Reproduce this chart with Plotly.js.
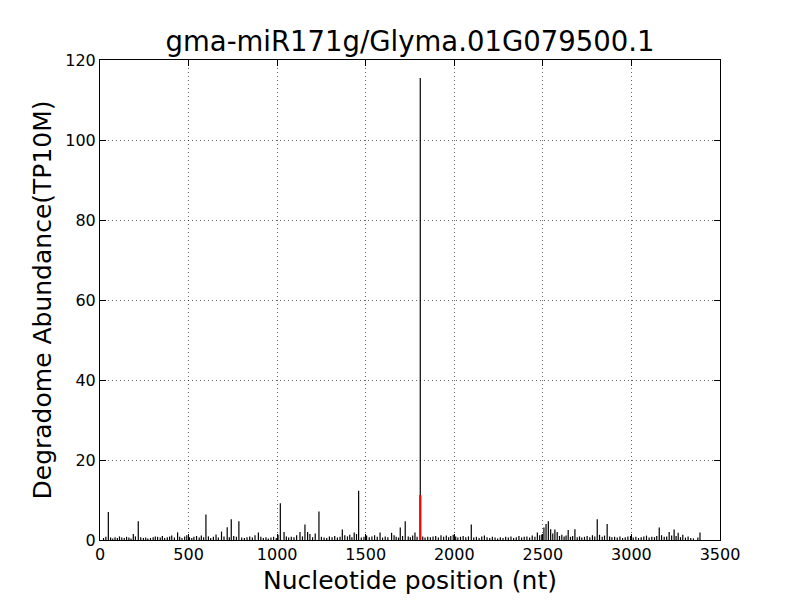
<!DOCTYPE html>
<html>
<head>
<meta charset="utf-8">
<script src="https://cdn.plot.ly/plotly-3.0.1.min.js"></script>
<style>html,body{margin:0;padding:0;background:#fff;}#chart{width:800px;height:600px;}</style>
</head>
<body>
<div id="chart"></div>
<script>
// Notable peaks (nt position, abundance TP10M)
var peakPos = [47, 188, 216, 438, 598, 686, 718, 741, 784, 894,
               1018, 1039, 1129, 1157, 1172, 1236, 1368, 1435, 1460, 1581,
               1646, 1695, 1723, 1778, 1808, 1994, 2096, 2469, 2506, 2518,
               2531, 2544, 2568, 2581, 2643, 2681, 2807, 2863, 3157, 3213,
               3241, 3264, 3387];
var peakVal = [7.0, 1.5, 4.7, 1.9, 6.4, 2.1, 3.2, 5.2, 4.7, 1.9,
               9.2, 2.0, 2.0, 3.9, 2.0, 7.1, 2.6, 1.9, 12.3, 1.9,
               1.8, 3.1, 4.7, 1.9, 115.5, 1.3, 3.9, 1.9, 3.1, 4.0,
               4.7, 2.7, 2.6, 2.0, 2.5, 2.7, 5.2, 4.0, 3.1, 2.0,
               2.6, 1.8, 1.9];
// Low background signal
var noisePos = [20, 33, 60, 72, 85, 98, 110, 123, 137, 150,
                163, 175, 200, 230, 245, 258, 270, 285, 300, 312,
                325, 340, 352, 365, 380, 393, 405, 420, 450, 463,
                478, 490, 505, 518, 530, 545, 560, 572, 585, 612,
                625, 640, 655, 668, 700, 730, 755, 770, 800, 815,
                830, 845, 860, 875, 908, 922, 937, 950, 965, 980,
                995, 1005, 1052, 1065, 1080, 1095, 1110, 1143, 1185, 1200,
                1215, 1250, 1265, 1280, 1295, 1310, 1325, 1340, 1355, 1382,
                1397, 1410, 1422, 1448, 1475, 1490, 1505, 1520, 1535, 1550,
                1565, 1595, 1610, 1625, 1660, 1672, 1685, 1708, 1740, 1752,
                1765, 1790, 1822, 1835, 1850, 1865, 1880, 1895, 1910, 1925,
                1940, 1955, 1968, 1980, 2008, 2020, 2035, 2050, 2065, 2080,
                2110, 2125, 2140, 2155, 2170, 2185, 2200, 2215, 2230, 2245,
                2260, 2275, 2290, 2305, 2320, 2335, 2350, 2365, 2380, 2395,
                2410, 2425, 2440, 2455, 2482, 2494, 2556, 2594, 2607, 2620,
                2631, 2656, 2668, 2694, 2707, 2720, 2735, 2750, 2765, 2780,
                2793, 2820, 2835, 2848, 2877, 2890, 2905, 2920, 2935, 2950,
                2965, 2980, 2995, 3010, 3025, 3040, 3055, 3070, 3085, 3100,
                3115, 3130, 3143, 3170, 3185, 3199, 3227, 3252, 3277, 3290,
                3305, 3320, 3335, 3350, 3375];
var noiseVal = [0.5, 0.8, 0.6, 0.4, 0.7, 0.5, 0.9, 0.6, 0.5, 0.8,
                0.6, 0.4, 0.9, 0.7, 0.5, 0.6, 0.4, 0.5, 0.7, 0.9,
                0.8, 0.6, 1.0, 0.5, 0.7, 0.9, 1.1, 0.6, 0.8, 0.5,
                0.9, 1.2, 0.7, 0.5, 0.8, 1.0, 0.6, 1.1, 0.7, 0.9,
                0.5, 0.8, 1.4, 0.6, 0.9, 0.7, 1.0, 0.8, 0.6, 0.5,
                0.7, 0.9, 0.6, 1.2, 0.8, 0.5, 0.7, 0.4, 0.6, 0.8,
                0.5, 1.3, 0.9, 0.6, 0.8, 0.7, 1.2, 0.9, 1.5, 0.7,
                1.6, 0.8, 0.6, 0.5, 0.9, 0.7, 1.0, 0.6, 0.8, 1.2,
                0.9, 1.3, 0.7, 1.5, 0.6, 0.8, 1.1, 0.7, 0.9, 1.2,
                0.8, 0.6, 0.9, 0.7, 1.2, 0.8, 0.6, 1.0, 0.9, 0.7,
                1.1, 0.8, 0.9, 0.6, 0.8, 0.7, 0.9, 1.0, 0.6, 1.2,
                0.8, 1.1, 0.7, 1.0, 0.9, 0.6, 0.8, 1.0, 0.7, 0.9,
                0.6, 0.8, 0.5, 0.9, 1.1, 0.7, 0.5, 0.8, 0.6, 0.4,
                0.7, 0.5, 0.8, 0.6, 0.9, 0.5, 0.7, 1.0, 0.6, 0.8,
                0.9, 0.6, 1.1, 0.8, 1.2, 1.4, 1.6, 1.0, 1.3, 0.9,
                1.1, 0.8, 1.0, 0.7, 0.9, 0.6, 0.8, 1.0, 0.7, 1.2,
                0.9, 1.3, 0.8, 1.1, 0.9, 0.7, 0.8, 0.6, 0.9, 0.5,
                0.7, 0.9, 1.0, 0.6, 0.8, 0.5, 0.7, 0.9, 1.1, 0.6,
                0.8, 0.7, 1.0, 1.2, 0.8, 0.9, 1.1, 1.0, 0.7, 1.3,
                0.6, 0.9, 0.5, 0.4, 0.6];
// Cleavage site (highlighted in red)
var sitePos = [1808];
var siteVal = [11.2];

var titleText = 'gma-miR171g/Glyma.01G079500.1';
var xTitle = 'Nucleotide position (nt)';
var yTitle = 'Degradome Abundance(TP10M)';

function stems(pos, val) {
  var xs = [], ys = [];
  for (var i = 0; i < pos.length; i++) {
    xs.push(pos[i], pos[i], null);
    ys.push(0, val[i], null);
  }
  return {x: xs, y: ys};
}

var allPos = noisePos.concat(peakPos);
var allVal = noiseVal.concat(peakVal);
var s1 = stems(allPos, allVal);
var s2 = stems(sitePos, siteVal);

var traces = [
  {x: s1.x, y: s1.y, type: 'scatter', mode: 'lines', line: {color: '#000000', width: 1.2}, hoverinfo: 'skip', showlegend: false},
  {x: s2.x, y: s2.y, type: 'scatter', mode: 'lines', line: {color: '#ff0000', width: 2.2}, hoverinfo: 'skip', showlegend: false}
];

var font = 'DejaVu Sans, Liberation Sans, sans-serif';
var axisCommon = {
  showline: true, linecolor: '#000', linewidth: 1, mirror: 'allticks',
  ticks: 'inside', ticklen: 6, tickwidth: 1, tickcolor: '#000',
  showgrid: true, gridcolor: '#000', gridwidth: 0.6, griddash: '1px,3px',
  zeroline: false,
  tickfont: {family: font, size: 16, color: '#000'}
};

var layout = {
  width: 800, height: 600,
  paper_bgcolor: '#fff', plot_bgcolor: '#fff',
  margin: {l: 100, r: 80, t: 60, b: 60},
  title: {text: titleText, font: {family: font, size: 27.5, color: '#000'},
          x: 0.5125, xanchor: 'center', y: 0.915, yanchor: 'bottom', yref: 'container'},
  xaxis: Object.assign({}, axisCommon, {
    range: [0, 3500], dtick: 500, tick0: 0,
    title: {text: xTitle, font: {family: font, size: 25, color: '#000'}, standoff: 8}
  }),
  yaxis: Object.assign({}, axisCommon, {
    range: [0, 120], dtick: 20, tick0: 0,
    title: {text: yTitle, font: {family: font, size: 25, color: '#000'}, standoff: 6}
  })
};

Plotly.newPlot('chart', traces, layout, {staticPlot: true, displayModeBar: false});
</script>
</body>
</html>
